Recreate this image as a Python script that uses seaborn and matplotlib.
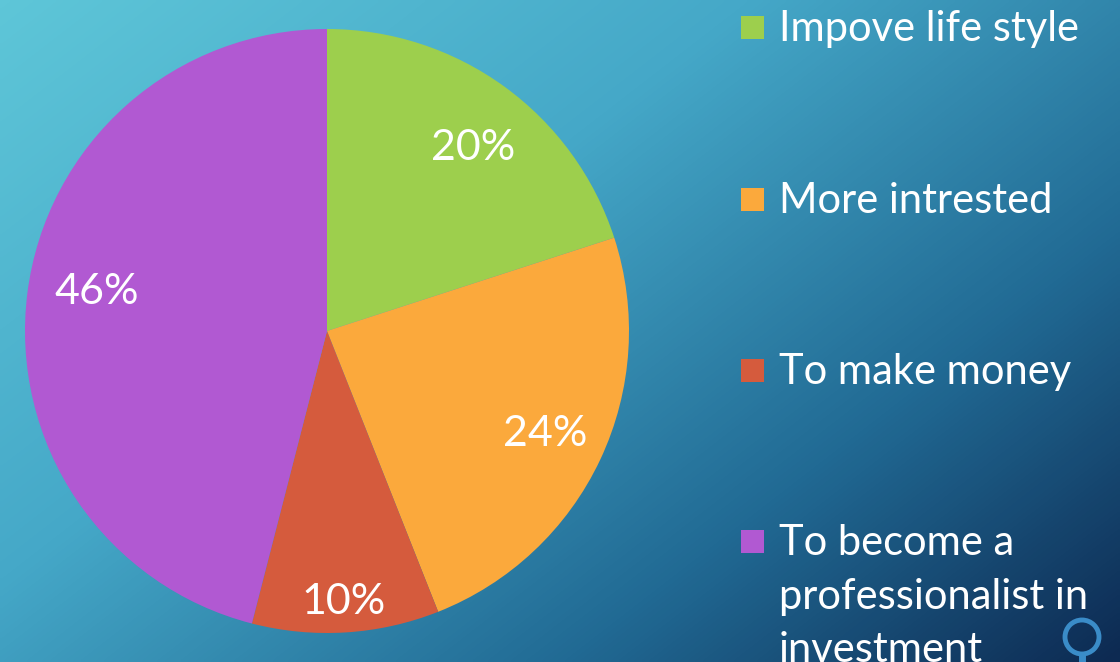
import numpy as np
import matplotlib
matplotlib.use("Agg")
import matplotlib.pyplot as plt
import seaborn as sns
from matplotlib.colors import LinearSegmentedColormap
from matplotlib.patches import Rectangle, Circle

categories = ["Impove life style", "More intrested", "To make money",
              "To become a\nprofessionalist in\ninvestment"]
values = [20, 24, 10, 46]
colors = ["#9DCF4D", "#FBA93C", "#D55B3D", "#B159D2"]

sns.set_style("white")
plt.rcParams['font.family'] = ['Lato', 'DejaVu Sans']

W, H = 1120, 662
fig = plt.figure(figsize=(W / 100, H / 100), dpi=100)

# background gradient
bg = fig.add_axes([0, 0, 1, 1])
xx, yy = np.meshgrid(np.linspace(0, W, 300), np.linspace(0, H, 180))
t = (xx * 1.0 + yy * 1.29) / (W + H * 1.29)
cmap = LinearSegmentedColormap.from_list(
    "bg", [(0, "#5EC6D8"), (0.38, "#45A8C8"), (0.72, "#216A94"), (1.0, "#0D2A52")])
bg.imshow(t, cmap=cmap, extent=[0, W, H, 0], aspect='auto', interpolation='bilinear')
bg.set_xlim(0, W)
bg.set_ylim(H, 0)
bg.axis('off')

# decorative magnifier (slide theme)
bg.add_patch(Circle((1082, 637), 17, fill=False, ec="#3A8CC8", lw=3.5))
bg.plot([1082, 1082], [654, 662], color="#3A8CC8", lw=5, solid_capstyle='butt')

# pie
cx, cy, r = 327, 331, 302
ax = fig.add_axes([(cx - r) / W, 1 - (cy + r) / H, 2 * r / W, 2 * r / H])
wedges, texts, autotexts = ax.pie(
    values, colors=colors, startangle=90, counterclock=False,
    autopct='%1.0f%%', pctdistance=0.78,
    wedgeprops=dict(linewidth=0, edgecolor='none'),
    textprops=dict(color='white', fontsize=31))
radii = [0.775, 0.80, 0.90, 0.775]
shifts = [-2.5, 0.0, 0.0, -2.5]
for w, at, rd, sh in zip(wedges, autotexts, radii, shifts):
    ang = np.deg2rad((w.theta1 + w.theta2) / 2 + sh)
    at.set_position((rd * np.cos(ang), rd * np.sin(ang)))
ax.set_xlim(-1, 1)
ax.set_ylim(-1, 1)
ax.set_aspect('equal')
ax.axis('off')

# legend
rows_y = [27, 199, 370, 541]
for lab, col, y in zip(categories, colors, rows_y):
    bg.add_patch(Rectangle((741, y - 11), 23, 23, color=col, lw=0))
    bg.text(779, y - 17, lab, color='white', fontsize=30, va='top',
            ha='left', linespacing=1.5, transform=bg.transData)

fig.savefig("out.png", dpi=100)
